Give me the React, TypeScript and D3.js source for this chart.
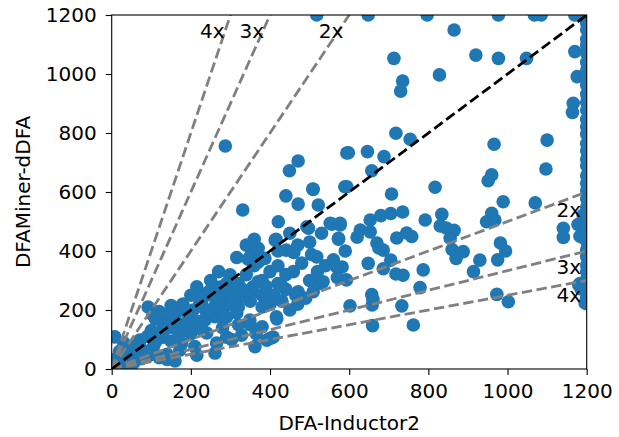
import React, { useEffect, useRef } from "react";
import * as d3 from "d3";

// DFA-Inductor2 (x) vs DFAMiner-dDFA (y), runtimes
const dfaInductor2 = [
  518, 648, 797, 977, 1068, 1085, 1170, 1200,
  865, 713, 920, 977, 1048, 828, 735, 730, 1170, 1176, 1166, 1164, 718, 754, 966, 1100, 1097, 960, 951, 817, 707,
  598, 646, 688, 657, 594, 287, 594, 471, 449, 508, 589, 440, 471, 522, 331, 421, 552, 577, 573, 497, 415, 316,
  989, 1070, 1141, 1141, 1183, 1178, 1188, 1186, 1191, 1183, 1196, 1180,
  1200, 1200, 1200, 1200, 1200, 1200, 1200, 1200, 1200, 1200, 1200, 1200, 1200, 1200, 1200, 1200, 1200, 1200, 1200, 1200,
  1200, 1200, 1200, 1200, 1200, 1200, 1200, 1200, 1200, 1200, 1200, 1200, 1200, 1200, 1200, 1200, 1200, 1200, 1200,
  960, 947, 968, 834, 792, 830, 845, 865, 855, 860, 888, 870, 930, 914, 982, 995, 975, 973, 1002, 762, 659, 733,
  779, 787, 658, 660, 657, 602, 648, 686, 705, 718, 736, 670, 686, 675, 720, 745, 758, 653, 680, 705, 735, 628,
  620, 653, 577, 590, 582, 593, 570, 568,
  509, 493, 556, 573, 413, 366, 350, 387, 441, 460, 480, 505, 518, 459, 350, 357, 420, 440, 465, 471, 509, 525,
  534, 370, 345, 370, 299, 218, 245, 260, 281, 354, 370,
  92, 120, 140, 157, 177, 195, 210, 236, 261, 281, 316, 290, 349, 345, 365, 362, 328, 303, 261, 210, 92, 120, 140,
  160, 8, 30, 50, 67, 126, 150, 177, 34, 0, 5, 21, 38, 71, 105, 172, 215, 140, 206, 240, 130, 147, 265, 290, 392,
  408, 416, 400, 350, 380, 417, 274, 299, 250, 261, 307, 325, 341, 206, 224, 215, 223, 104, 117, 155,
  10, 15, 25, 40, 55, 60, 75, 85, 100, 110, 45, 20,
  100, 130, 160, 180, 200, 230, 250, 270, 150, 110, 190, 250, 280, 300, 320, 340, 360, 380, 400, 420, 440, 380,
  400, 430, 450, 470, 490, 500, 520, 540, 560, 500, 530, 450, 470, 420, 360, 340,
  180, 200, 220, 240, 260, 280, 300, 320, 262, 230, 310, 330, 290, 270, 350, 380, 410, 430, 390, 200, 170, 230,
  280, 320, 160, 130, 115, 90, 70, 55, 30,
];

const dfaMinerDDFA = [
  1200, 1200, 1200, 1200, 1200, 1200, 1200, 1200,
  1149, 1053, 1064, 1053, 1053, 997, 976, 942, 1076, 991, 901, 870, 799, 779, 762, 776, 678, 658, 638, 616, 593,
  733, 737, 720, 672, 618, 756, 732, 705, 672, 610, 618, 587, 559, 556, 539, 499, 494, 494, 443, 477, 440, 378,
  567, 563, 446, 477, 450, 490, 448, 271, 522, 290, 224, 285,
  1195, 1172, 1150, 1118, 1097, 1071, 1040, 1013, 985, 962, 931, 905, 878, 846, 821, 797, 764, 740, 712, 689,
  655, 630, 604, 577, 549, 528, 503, 481, 455, 432, 404, 381, 352, 330, 305, 283, 262, 240, 221,
  528, 499, 505, 524, 505, 485, 478, 470, 443, 405, 398, 375, 369, 330, 427, 400, 370, 253, 228, 149, 147, 214,
  276, 336, 217, 236, 252, 214, 358, 340, 369, 322, 318, 427, 403, 410, 444, 461, 449, 505, 520, 527, 532, 471,
  447, 465, 488, 400, 346, 302, 310, 347,
  609, 482, 491, 440, 437, 398, 381, 375, 403, 395, 359, 388, 380, 330, 258, 279, 290, 270, 250, 262, 262, 290,
  296, 409, 372, 362, 319, 255, 262, 270, 275, 268, 296,
  210, 195, 180, 156, 200, 175, 156, 166, 177, 173, 190, 176, 166, 156, 120, 76, 115, 100, 54, 76, 44, 38, 32,
  27, 109, 90, 70, 42, 109, 95, 87, 19, 30, 25, 20, 64, 98, 74, 64, 47, 50, 142, 122, 108, 142, 88, 108, 98,
  108, 177, 104, 150, 143, 170, 278, 312, 261, 275, 234, 245, 258, 200, 224, 279, 223, 183, 193, 210,
  8, 40, 15, 30, 20, 55, 35, 60, 50, 90, 50, 60,
  130, 150, 170, 220, 250, 240, 300, 330, 215, 170, 130, 200, 230, 260, 290, 320, 350, 300, 330, 350, 320, 250,
  220, 230, 200, 220, 240, 300, 330, 350, 370, 430, 460, 460, 420, 400, 440, 420,
  150, 180, 160, 190, 210, 200, 220, 210, 240, 210, 250, 270, 290, 240, 230, 210, 250, 280, 280, 120, 120, 130,
  140, 150, 140, 130, 120, 110, 80, 75, 45,
];

const ratios = [2, 3, 4];
const tickValues = [0, 200, 400, 600, 800, 1000, 1200];
const topLabels = [
  { text: "4x", x: 285, y: 1150 },
  { text: "3x", x: 385, y: 1150 },
  { text: "2x", x: 585, y: 1150 },
];
const rightLabels = [
  { text: "2x", x: 1155, y: 575 },
  { text: "3x", x: 1155, y: 383 },
  { text: "4x", x: 1155, y: 287 },
];

const W = 619;
const H = 437;
const FONT = "DejaVu Sans, sans-serif";
const FS = "20px";

const App = () => {
  const ref = useRef<SVGSVGElement>(null);

  useEffect(() => {
    const svg = d3.select(ref.current);
    svg.selectAll("*").remove();

    const left = 111.7, right = 586.7, top = 15, bottom = 369;
    const x = d3.scaleLinear().domain([0, 1200]).range([left, right]);
    const y = d3.scaleLinear().domain([0, 1200]).range([bottom, top]);

    svg.append("rect").attr("width", W).attr("height", H).attr("fill", "white");

    svg.append("defs").append("clipPath").attr("id", "plot-clip")
      .append("rect").attr("x", left).attr("y", top).attr("width", right - left).attr("height", bottom - top);

    const plot = svg.append("g").attr("clip-path", "url(#plot-clip)");

    plot.selectAll("circle")
      .data(dfaInductor2.map((d, i) => [d, dfaMinerDDFA[i]]))
      .join("circle")
      .attr("cx", (d) => x(d[0]))
      .attr("cy", (d) => y(d[1]))
      .attr("r", 6.8)
      .attr("fill", "#1f77b4");

    const line = d3.line<[number, number]>().x((d) => x(d[0])).y((d) => y(d[1]));

    ratios.forEach((k) => {
      plot.append("path")
        .attr("d", line([[0, 0], [1200, 1200 * k]]))
        .attr("fill", "none").attr("stroke", "#808080").attr("stroke-width", 2.8).attr("stroke-dasharray", "10.4,4.5");
      plot.append("path")
        .attr("d", line([[0, 0], [1200, 1200 / k]]))
        .attr("fill", "none").attr("stroke", "#808080").attr("stroke-width", 2.8).attr("stroke-dasharray", "10.4,4.5");
    });

    plot.append("path")
      .attr("d", line([[0, 0], [1200, 1200]]))
      .attr("fill", "none").attr("stroke", "black").attr("stroke-width", 2.8).attr("stroke-dasharray", "10.4,4.5");

    // frame
    svg.append("rect")
      .attr("x", left).attr("y", top).attr("width", right - left).attr("height", bottom - top)
      .attr("fill", "none").attr("stroke", "black").attr("stroke-width", 1.1);

    const fmt = d3.format("d");
    const xAxis = svg.append("g").attr("transform", `translate(0,${bottom})`)
      .call(d3.axisBottom(x).tickValues(tickValues).tickFormat(fmt).tickSize(6).tickSizeOuter(0).tickPadding(9));
    const yAxis = svg.append("g").attr("transform", `translate(${left},0)`)
      .call(d3.axisLeft(y).tickValues(tickValues).tickFormat(fmt).tickSize(6).tickSizeOuter(0).tickPadding(9));

    [xAxis, yAxis].forEach((a) => {
      a.select(".domain").remove();
      a.selectAll("line").attr("stroke", "black").attr("stroke-width", 1.1);
      a.selectAll("text").style("font-size", FS).style("font-family", FONT).attr("fill", "black");
    });

    svg.append("text")
      .attr("x", (left + right) / 2).attr("y", 430)
      .attr("text-anchor", "middle")
      .style("font-size", FS).style("font-family", FONT)
      .text("DFA-Inductor2");

    svg.append("text")
      .attr("transform", `translate(30,${(top + bottom) / 2}) rotate(-90)`)
      .attr("text-anchor", "middle")
      .style("font-size", FS).style("font-family", FONT)
      .text("DFAMiner-dDFA");

    topLabels.forEach((l) => {
      svg.append("text")
        .attr("x", x(l.x)).attr("y", y(l.y)).attr("dy", "0.4em")
        .attr("text-anchor", "end")
        .style("font-size", FS).style("font-family", FONT)
        .text(l.text);
    });

    rightLabels.forEach((l) => {
      svg.append("text")
        .attr("x", x(l.x)).attr("y", y(l.y)).attr("dy", "0.9em")
        .attr("text-anchor", "middle")
        .style("font-size", FS).style("font-family", FONT)
        .text(l.text);
    });
  }, []);

  return <svg ref={ref} width={W} height={H} style={{ position: "absolute", left: 0, top: 0 }}></svg>;
};

export default App;
